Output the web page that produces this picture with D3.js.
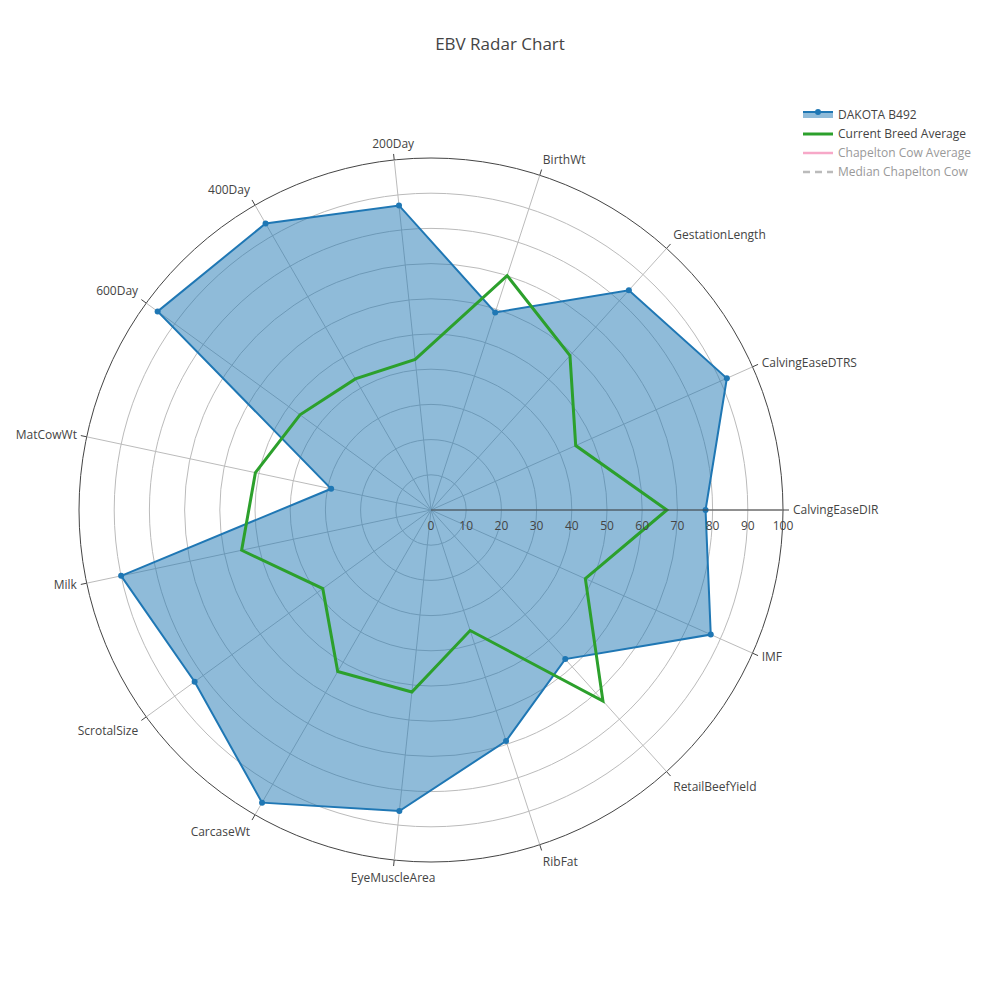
<!DOCTYPE html>
<html><head><meta charset="utf-8">
<script src="https://cdn.jsdelivr.net/npm/d3@7"></script>
<style>body{margin:0;background:#fff;font-family:"Open Sans",sans-serif;}</style>
</head><body><svg id="chart" width="1000" height="1000"></svg>
<script>
var categories = ["CalvingEaseDIR","CalvingEaseDTRS","GestationLength","BirthWt","200Day","400Day","600Day","MatCowWt","Milk","ScrotalSize","CarcaseWt","EyeMuscleArea","RibFat","RetailBeefYield","IMF"];
var dakota = [78,92,84,59,87,94,96,29,90,83,96,86,69,57,87];
var breedAvg = [67,45,59,70,43,43,46,51,55,38,53,52,36,73,48];
var radialTicks = [0,10,20,30,40,50,60,70,80,90,100];
var legendNames = ["DAKOTA B492","Current Breed Average","Chapelton Cow Average","Median Chapelton Cow"];

var svg = d3.select("#chart");
var cx = 431, cy = 510, R = 352;
var r = d3.scaleLinear().domain([0,100]).range([0,R]);
var ang = d3.scaleLinear().domain([0,categories.length]).range([0,2*Math.PI]);
function pt(i,v){var a=ang(i);return [cx+r(v)*Math.cos(a), cy-r(v)*Math.sin(a)];}

svg.append("text").attr("x",500).attr("y",50).attr("text-anchor","middle")
  .style("font-size","17px").style("fill","#444").text("EBV Radar Chart");

var g = svg.append("g");
radialTicks.slice(1).forEach(function(t){
  g.append("circle").attr("cx",cx).attr("cy",cy).attr("r",r(t))
   .attr("fill","none").attr("stroke",t===100?"#444":"#bbb").attr("stroke-width",1);
});
categories.forEach(function(c,i){
  var p=pt(i,100), a=ang(i);
  g.append("line").attr("x1",cx).attr("y1",cy).attr("x2",p[0]).attr("y2",p[1]).attr("stroke","#bbb");
  var p2=pt(i,100), tx=cx+(R+6)*Math.cos(a), ty=cy-(R+6)*Math.sin(a);
  g.append("line").attr("x1",p2[0]).attr("y1",p2[1]).attr("x2",tx).attr("y2",ty).attr("stroke","#444");
  var lx=cx+(R+10)*Math.cos(a), ly=cy-(R+10)*Math.sin(a);
  var cs=Math.cos(a), anchor=Math.abs(cs)<0.15?"middle":(cs>0?"start":"end");
  var dy=Math.sin(a)>0.5?-2:(Math.sin(a)<-0.5?12:4);
  g.append("text").attr("x",lx).attr("y",ly+dy).attr("text-anchor",anchor)
   .style("font-size","12px").style("fill","#444").text(c);
});

var line = d3.line().curve(d3.curveLinearClosed);
var dPts = dakota.map(function(v,i){return pt(i,v);});
g.append("path").attr("d",line(dPts)).attr("fill","rgba(31,119,180,0.5)")
 .attr("stroke","#1f77b4").attr("stroke-width",2);
g.selectAll(".dot").data(dPts).enter().append("circle")
 .attr("cx",function(d){return d[0];}).attr("cy",function(d){return d[1];}).attr("r",3).attr("fill","#1f77b4");
var bPts = breedAvg.map(function(v,i){return pt(i,v);});
g.append("path").attr("d",line(bPts)).attr("fill","none").attr("stroke","#2ca02c").attr("stroke-width",3);

// radial axis
g.append("line").attr("x1",cx).attr("y1",cy).attr("x2",cx+R).attr("y2",cy).attr("stroke","#444");
radialTicks.forEach(function(t){
  g.append("text").attr("x",cx+r(t)).attr("y",cy+20).attr("text-anchor","middle")
   .style("font-size","12px").style("fill","#444").text(t);
});

// legend
var lg = svg.append("g").attr("transform","translate(803,115)");
legendNames.forEach(function(n,i){
  var y=i*19;
  if(i===0){
    lg.append("rect").attr("x",0).attr("y",y-3).attr("width",30).attr("height",6).attr("fill","rgba(31,119,180,0.5)");
    lg.append("line").attr("x1",0).attr("x2",30).attr("y1",y-3).attr("y2",y-3).attr("stroke","#1f77b4").attr("stroke-width",2);
    lg.append("circle").attr("cx",15).attr("cy",y-3).attr("r",3).attr("fill","#1f77b4");
  } else {
    var col=["","#2ca02c","#f7a8c8","#bbb"][i];
    lg.append("line").attr("x1",0).attr("x2",30).attr("y1",y).attr("y2",y).attr("stroke",col)
      .attr("stroke-width",i===1?3:2.5).attr("stroke-dasharray",i===3?"7,5":null);
  }
  lg.append("text").attr("x",35).attr("y",y+4).style("font-size","12px")
    .style("fill",i<2?"#444":"#999").text(n);
});
</script></body></html>
